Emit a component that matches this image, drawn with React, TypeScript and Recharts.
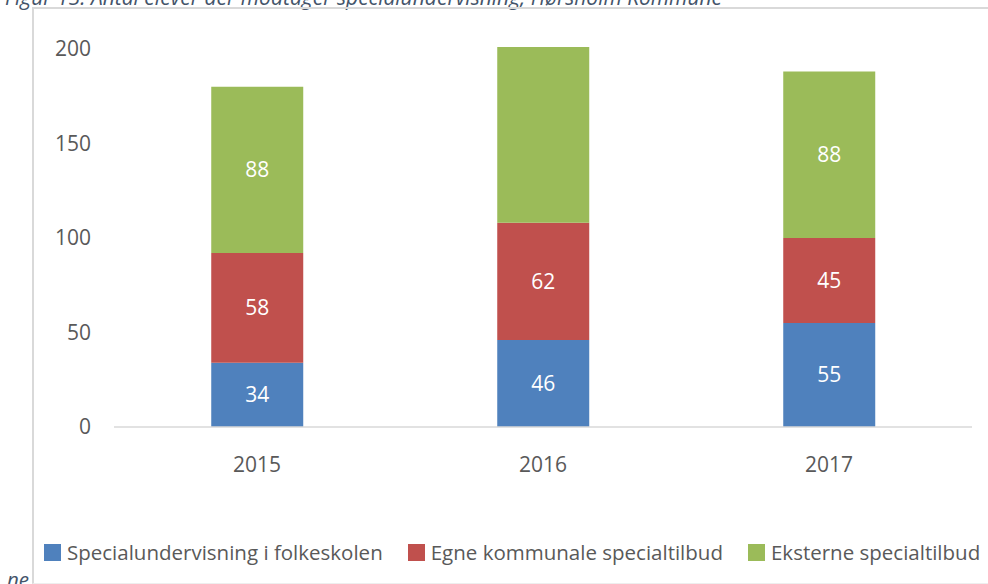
import { Bar, BarChart, LabelList, XAxis, YAxis } from "recharts";

const YEARS = ["2015", "2016", "2017"];
const FOLKESKOLEN = [34, 46, 55];
const KOMMUNALE = [58, 62, 45];
const EKSTERNE = [88, 93, 88];
// the 2016 green segment has no printed label in the source
const EKSTERNE_LABELS = ["88", "", "88"];
const Y_TICKS = [0, 50, 100, 150, 200];

const SERIES = [
  { key: "folkeskolen", name: "Specialundervisning i folkeskolen", color: "#4F81BD" },
  { key: "kommunale", name: "Egne kommunale specialtilbud", color: "#C0504D" },
  { key: "eksterne", name: "Eksterne specialtilbud", color: "#9BBB59" },
];

const data = YEARS.map((year, i) => ({
  year,
  folkeskolen: FOLKESKOLEN[i],
  kommunale: KOMMUNALE[i],
  eksterne: EKSTERNE[i],
  eksterneLabel: EKSTERNE_LABELS[i],
}));

const FONT = "'Open Sans', sans-serif";
const GREY = "#595959";
const CAPTION = "#44546A";

function LegendRow() {
  return (
    <div style={{ display: "flex", alignItems: "center", fontFamily: FONT, fontSize: 20.5, color: GREY, whiteSpace: "nowrap" }}>
      {SERIES.map((s, i) => (
        <div key={s.key} style={{ display: "flex", alignItems: "center", marginLeft: i === 0 ? 0 : 25 }}>
          <span style={{ width: 17, height: 17, background: s.color, marginRight: 6, display: "inline-block" }} />
          <span>{s.name}</span>
        </div>
      ))}
    </div>
  );
}

export default function App() {
  return (
    <div style={{ position: "fixed", left: 0, top: 0, width: 988, height: 584, background: "#fff", overflow: "hidden" }}>
      {/* caption above the box, cut by the crop */}
      <div
        style={{
          position: "absolute",
          left: 5,
          top: -17,
          fontFamily: FONT,
          fontStyle: "italic",
          fontSize: 21,
          color: CAPTION,
          whiteSpace: "nowrap",
        }}
      >
        Figur 13: Antal elever der modtager specialundervisning, Hørsholm Kommune
      </div>
      <div
        style={{
          position: "absolute",
          left: 7,
          top: 565,
          fontFamily: FONT,
          fontStyle: "italic",
          fontSize: 20.5,
          color: CAPTION,
        }}
      >
        ne
      </div>
      {/* chart frame */}
      <div
        style={{
          position: "absolute",
          left: 32,
          top: 7,
          width: 1000,
          height: 574,
          borderLeft: "2px solid #D9D9D9",
          borderTop: "2px solid #D9D9D9",
          borderBottom: "1px solid #EEEEEE",
        }}
      />
      <div style={{ position: "absolute", left: 0, top: 0 }}>
        <BarChart
          width={988}
          height={584}
          data={data}
          margin={{ top: 47, right: 16, bottom: 127, left: 0 }}
          barCategoryGap="34%"
        >
          <XAxis
            dataKey="year"
            height={30}
            axisLine={{ stroke: "#D9D9D9", strokeWidth: 1.5 }}
            tickLine={false}
            tickMargin={24}
            tick={{ fill: GREY, fontSize: 21, fontFamily: FONT }}
          />
          <YAxis
            width={114}
            domain={[0, 200]}
            ticks={Y_TICKS}
            axisLine={false}
            tickLine={false}
            tickMargin={17}
            tick={{ fill: GREY, fontSize: 21, fontFamily: FONT }}
          />
          <Bar dataKey="folkeskolen" name={SERIES[0].name} stackId="a" fill={SERIES[0].color} isAnimationActive={false}>
            <LabelList dataKey="folkeskolen" position="center" fill="#fff" fontSize={21} fontFamily={FONT} />
          </Bar>
          <Bar dataKey="kommunale" name={SERIES[1].name} stackId="a" fill={SERIES[1].color} isAnimationActive={false}>
            <LabelList dataKey="kommunale" position="center" fill="#fff" fontSize={21} fontFamily={FONT} />
          </Bar>
          <Bar dataKey="eksterne" name={SERIES[2].name} stackId="a" fill={SERIES[2].color} isAnimationActive={false}>
            <LabelList dataKey="eksterneLabel" position="center" fill="#fff" fontSize={21} fontFamily={FONT} />
          </Bar>
        </BarChart>
      </div>
      <div style={{ position: "absolute", left: 44, top: 538 }}>
        <LegendRow />
      </div>
    </div>
  );
}
